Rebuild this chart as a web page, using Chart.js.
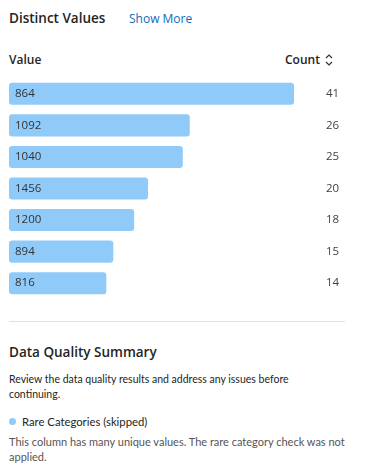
<!DOCTYPE html>
<html>
<head>
<meta charset="utf-8">
<script src="https://cdn.jsdelivr.net/npm/chart.js@4.4.0/dist/chart.umd.min.js"></script>
<style>
  body { margin: 0; width: 370px; height: 473px; background: #fff; font-family: "Open Sans", sans-serif; color: #242424; position: relative; overflow: hidden; }
  .abs { position: absolute; white-space: nowrap; }
  .title { font-size: 13.5px; font-weight: 600; }
  .link { font-size: 12px; color: #0f6cbd; }
  .hdr { font-size: 12px; font-weight: 600; }
  .txt { font-family: Lato, sans-serif; font-size: 11px; }
  .muted { color: #555; }
  #wrap { position: absolute; left: 0; top: 78px; width: 370px; height: 221px; }
  .rule { position: absolute; left: 9px; top: 321px; width: 336px; height: 1px; background: #e0e0e0; }
  .dot { position: absolute; left: 9px; top: 418px; width: 7px; height: 7px; border-radius: 50%; background: #90caf9; }
</style>
</head>
<body>
<div class="abs title" style="left:9px;top:9px">Distinct Values</div>
<div class="abs link" style="left:129px;top:10px">Show More</div>
<div class="abs hdr" style="left:9px;top:51px">Value</div>
<div class="abs hdr" style="left:285px;top:51px">Count</div>
<svg class="abs" style="left:325px;top:53px" width="8" height="14" viewBox="0 0 8 14">
  <polyline points="1,5 4,2 7,5" fill="none" stroke="#333" stroke-width="1.2"/>
  <polyline points="1,9 4,12 7,9" fill="none" stroke="#333" stroke-width="1.2"/>
</svg>
<div id="wrap"><canvas id="barChart"></canvas></div>
<div class="rule"></div>
<div class="abs title" style="left:9px;top:343px">Data Quality Summary</div>
<div class="abs txt" style="left:9px;top:373px;font-size:10.5px">Review the data quality results and address any issues before</div>
<div class="abs txt" style="left:9px;top:388px;font-size:10.5px">continuing.</div>
<div class="dot"></div>
<div class="abs txt" style="left:22px;top:415px;font-size:11.3px">Rare Categories (skipped)</div>
<div class="abs txt muted" style="left:9px;top:435px">This column has many unique values. The rare category check was not</div>
<div class="abs txt muted" style="left:9px;top:450px">applied.</div>

<script>
// ── Data ──
const values = ['864', '1092', '1040', '1456', '1200', '894', '816'];
const counts = [41, 26, 25, 20, 18, 15, 14];

// ── Draw value label inside bar and count on the right ──
const labelPlugin = {
  id: 'labels',
  afterDatasetsDraw(chart) {
    const ctx = chart.ctx;
    const meta = chart.getDatasetMeta(0);
    ctx.save();
    ctx.font = '11.5px "Open Sans"';
    ctx.textBaseline = 'middle';
    meta.data.forEach((bar, i) => {
      ctx.fillStyle = '#333';
      ctx.textAlign = 'left';
      ctx.fillText(values[i], chart.chartArea.left + 6, bar.y);
      ctx.fillStyle = '#424242';
      ctx.fillText(counts[i], 326, bar.y);
    });
    ctx.restore();
  }
};

new Chart(document.getElementById('barChart'), {
  type: 'bar',
  data: {
    labels: values,
    datasets: [{
      data: counts,
      backgroundColor: '#90caf9',
      borderRadius: 3,
      borderSkipped: false,
      barPercentage: 0.7,
      categoryPercentage: 1
    }]
  },
  options: {
    indexAxis: 'y',
    responsive: true,
    maintainAspectRatio: false,
    animation: false,
    layout: { padding: { left: 9, right: 76, top: 0, bottom: 0 } },
    plugins: { legend: { display: false }, tooltip: { enabled: false } },
    scales: {
      x: { display: false, min: 0, max: 41 },
      y: { display: false }
    }
  },
  plugins: [labelPlugin]
});
</script>
</body>
</html>
